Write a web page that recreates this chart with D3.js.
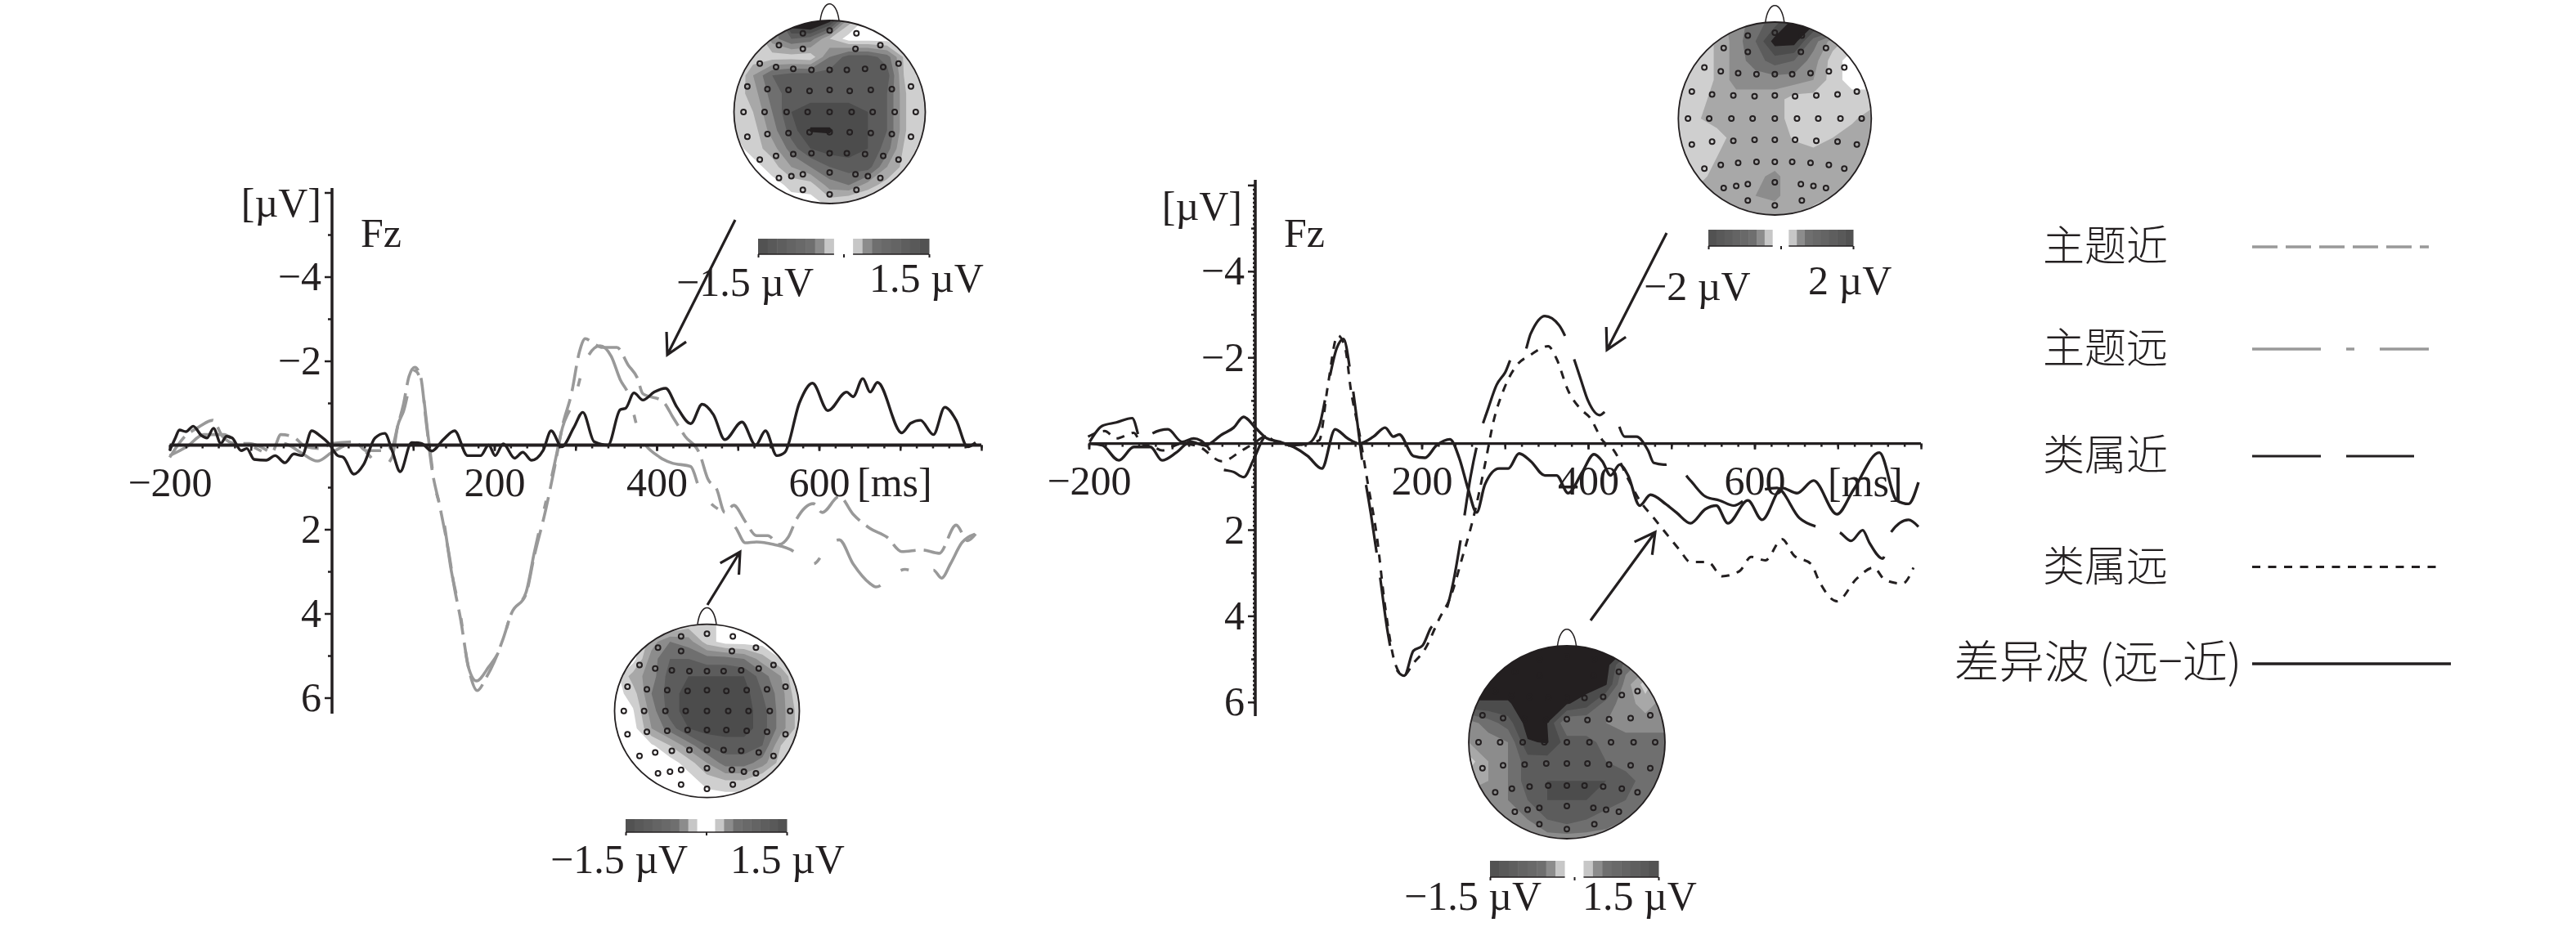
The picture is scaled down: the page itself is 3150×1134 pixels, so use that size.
<!DOCTYPE html>
<html lang="zh">
<head>
<meta charset="UTF-8">
<title>Fz</title>
<script src="https://d3js.org/d3.v7.min.js"></script>
<style>
  html, body { margin: 0; background: #fff; }
  text { font-family: "Liberation Serif", serif; font-size: 50px; fill: #231f20; }
  .cjk { font-family: "Noto Sans CJK SC", sans-serif; font-size: 51px; font-weight: 300; }
</style>
</head>
<body>
<div id="container"></div>
<script>
// [ms, uV]
var leftNear = [[-200,.29],[-183,-.17],[-165,-.42],[-147,-.59],[-135,-.21],[-119,-.04],[-102,-.04],[-88,.04],[-74,.17],[-63,-.25],[-49,-.21],[-32,.04],[-14,.08],[0,-.04],[28,-.08],[42,.13],[60,.13],[74,.04],[81,-.46],[88,-.97],[95,-1.64],[102,-1.85],[109,-1.64],[116,-.55],[123,.55],[133,1.47],[144,2.57],[151,3.41],[158,4.09],[168,5.27],[179,5.83],[190,5.52],[200,5.14],[211,4.59],[221,4],[239,3.54],[249,2.65],[263,1.56],[274,.55],[284,-.46],[295,-1.22],[305,-2.23],[312,-2.53],[323,-2.4],[333,-2.32],[351,-2.32],[365,-1.9],[376,-1.6],[383,-1.22],[407,-1.05],[421,-.63],[435,-.21],[453,.21],[463,.8],[474,1.05],[484,1.6],[495,1.43],[509,1.81],[523,2.15],[537,2.15],[551,2.36],[562,2.19],[572,1.77],[593,1.39],[604,1.6],[625,1.22],[642,1.64],[663,1.98],[684,2.19],[702,2.53],[727,2.49],[748,2.57],[769,1.9],[783,2.27],[793,2.11]];
var leftFar = [[-200,.25],[-179,.04],[-158,-.25],[-133,-.25],[-119,-.08],[-98,.04],[-81,.17],[-60,-.04],[-39,.17],[-18,.38],[0,.17],[28,-.04],[46,.25],[60,.55],[74,.29],[81,-.46],[88,-.8],[102,-1.77],[110,-1.47],[119,-.13],[126,.88],[137,1.73],[147,2.99],[158,4],[168,5.27],[178,5.6],[193,5.27],[207,4.84],[221,4],[239,3.5],[249,2.57],[263,1.39],[274,.46],[284,-.42],[298,-1.05],[312,-1.98],[330,-2.36],[344,-2.11],[355,-1.56],[365,-1.22],[379,-.25],[404,.29],[418,.42],[442,.51],[453,1.05],[467,1.39],[481,1.6],[498,1.98],[509,2.32],[523,2.3],[544,2.36],[569,2.53],[579,2.74],[593,2.82],[614,2.32],[625,2.25],[642,2.82],[663,3.29],[670,3.37],[695,3.03],[706,2.95],[723,3.03],[741,2.97],[751,3.16],[762,2.82],[776,2.32],[793,2.11]];
var leftDiff = [[-200,.13],[-193,-.17],[-188,-.36],[-180,-.32],[-171,-.45],[-161,-.23],[-154,-.17],[-146,-.4],[-137,-.04],[-130,-.21],[-123,-.17],[-112,.13],[-105,.08],[-96,.34],[-81,.36],[-70,.25],[-58,.42],[-47,.21],[-37,.25],[-25,-.34],[-14,-.21],[-4,-.04],[7,.25],[14,.29],[27,.69],[39,.46],[53,-.17],[65,-.28],[74,.13],[84,.63],[98,-.06],[110,-.04],[123,.14],[137,-.13],[151,-.34],[167,.25],[183,.25],[193,0],[201,.25],[211,-.03],[225,.31],[235,.17],[246,.36],[260,.13],[270,-.34],[283,.04],[298,-.42],[309,-.78],[323,-.08],[340,0],[355,-.84],[362,-.88],[372,-1.24],[383,-1.07],[397,-1.26],[411,-1.35],[425,-.9],[442,-.51],[456,-.97],[470,-.72],[484,-.13],[505,-.55],[522,0],[534,-.34],[548,.25],[558,.17],[576,-1.01],[592,-1.47],[611,-.82],[634,-1.26],[642,-1.15],[654,-1.58],[663,-1.26],[672,-1.49],[702,-.29],[713,-.52],[725,-.59],[741,-.25],[755,-.9],[769,-.59],[783,.04],[793,-.06]];
var rightNear = [[-199,-.04],[-184,-.41],[-167,-.49],[-148,-.59],[-136,0],[-126,-.21],[-105,-.33],[-88,-.04],[-74,-.12],[-57,.08],[-43,.58],[-26,.66],[-14,.78],[-2,.37],[12,-.16],[25,-.21],[43,.04],[63,0],[77,-.41],[87,-1.32],[98,-2.22],[106,-2.43],[115,-1.56],[122,-.58],[128,.33],[139,1.64],[149,2.96],[159,4.36],[168,5.18],[179,5.39],[190,4.81],[201,4.69],[211,4.28],[225,4.07],[238,3.21],[249,1.97],[259,.74],[269,-.16],[280,-.82],[290,-1.36],[300,-1.64],[311,-2.06],[321,-2.01],[331,-2.55],[348,-2.96],[365,-2.75],[379,-2.18],[390,-1.56],[400,-.99],[414,-.66],[424,-.78],[431,-.7],[444,-.16],[458,-.16],[472,.16],[479,.45],[493,.49],[502,.45],[523,.86],[541,1.23],[558,1.32],[575,1.44],[599,1.15],[627,1.03],[654,1.73],[682,1.97],[702,2.06],[716,2.26],[730,2.01],[738,2.3],[754,2.67],[764,2.06],[785,1.77],[797,1.93]];
var rightFar = [[-201,-.16],[-181,-.29],[-167,-.12],[-146,-.25],[-137,0],[-122,.08],[-112,.16],[-88,0],[-67,.08],[-40,.41],[-16,.16],[-2,0],[12,-.16],[29,0],[46,.04],[63,0],[77,-.08],[87,-1.32],[99,-2.51],[108,-2.22],[115,-1.23],[125,-.25],[135,.9],[146,2.14],[156,3.78],[168,5.1],[178,5.39],[190,5.1],[204,4.77],[221,4.07],[235,3.54],[249,2.63],[262,1.73],[276,.49],[286,-.49],[300,-1.32],[314,-1.81],[331,-2.06],[352,-2.26],[362,-1.97],[376,-1.23],[390,-.82],[403,-.58],[417,-.08],[431,.16],[448,.82],[462,1.32],[479,1.73],[496,2.14],[510,2.47],[523,2.75],[544,2.75],[561,3.08],[582,2.96],[596,2.63],[613,2.71],[633,2.22],[647,2.59],[668,2.8],[678,3.21],[699,3.66],[723,3.13],[743,2.88],[757,3.17],[778,3.25],[791,2.88]];
var rightDiff = [[-199,0],[-184,.04],[-164,.39],[-146,.08],[-126,.08],[-112,.39],[-95,.21],[-78,-.04],[-60,.04],[-40,-.21],[-26,-.37],[-14,-.62],[0,-.37],[14,-.12],[29,-.04],[46,.08],[63,.29],[80,.58],[96,-.33],[111,-.12],[125,0],[142,-.16],[156,-.37],[166,-.16],[173,-.21],[190,.29],[204,.33],[218,.04],[234,-.1],[245,.33],[256,1.07],[266,1.6],[276,.95],[293,.58],[304,.58],[317,.23],[331,.41],[348,.74],[362,.74],[376,1.15],[393,.66],[407,.25],[417,.41],[427,.74],[438,.49],[448,.74],[462,1.44],[475,1.19],[493,1.4],[506,1.6],[523,1.85],[541,1.52],[554,1.44],[568,1.85],[592,1.32],[609,1.77],[633,1.03],[651,1.15],[671,.86],[699,1.64],[719,1.07],[750,.21],[771,1.32],[785,1.4],[797,.9]];

var xLabelTicks = [-200, 200, 400, 600];
var xMajorTicks = [-200,-100,100,200,300,400,500,600,700,800];
var xMinorTicks = d3.range(-200, 801, 20);
var yLabelTicks = [-4, -2, 2, 4, 6];
var yMajorTicks = [-6];
var yMinorTicks = [-5,-3,-1,1,3,5];
var yDenseTicks = d3.range(-6, 6.01, .1);

var legendLabels = ["主题近", "主题远", "类属近", "类属远", "差异波 (远−近)"];

// scalp maps: contour level per grid node, rows front to back, left to right
var map1Levels = [
  [0,0,2,8,9,7,2,0,0,0,0],
  [0,0,3,4.5,4,1.5,0,0,0,0,0],
  [0,.8,1,1,.8,3.5,5,5,4,1,0],
  [0,2.5,4.5,5,5,5,5,5,5,1,0],
  [.8,2,4,5,5,5,5,5,4.5,1.5,.8],
  [1,1.5,3.5,5.5,6,6,6,5.5,4.5,1.5,.8],
  [.5,1,3,5,6.6,6.6,6,5.5,4.5,1.5,.8],
  [0,1,2,4,5.5,6,6,5.5,4,1,0],
  [0,0,1,2.5,3.5,4.5,5,5,2.5,1,0],
  [0,0,0,.8,1,3,3.5,2,1,0,0],
  [0,0,0,0,0,.8,0,0,0,0,0]
];
var map2Levels = [
  [1,1,2,3,4,5,7,7,7,5,4],
  [1,1,1.6,3,4.5,7,7,4,2,1,1],
  [1,1,1.6,3,4,5,4.5,3,1,0,0],
  [1,1,1.6,3,3,3,3,2.5,1,0,0],
  [1,1,2,2,2,2,1,1,1,1,1],
  [1,1.4,2,2,2,2,1,1,1,1.3,2],
  [1,1,1,2,2,2,1.4,1,1.5,2,2],
  [1,1,1.5,2,2,2,2,2,2,2,2],
  [1,1,2,2,2.3,2.7,2,2,2,2,2],
  [2,2,2,2,2.5,2.7,2,2,1.5,2,2],
  [2,2,2,2,2,2,2,1,1,1,1]
];
var map3Levels = [
  [0,0,0,0,1,1,0,0,0,0,0],
  [0,0,2,3.5,3,1,0,0,0,0,0],
  [0,0,3,4.5,4.5,4,4,3.5,2,.5,0],
  [0,2,3,5,5.5,5.5,5.5,5.5,4,2.5,0],
  [0,1,3.5,5,6,5.5,5.5,6,4.5,3,.5],
  [0,.4,3,5,6,6,6,6,5,3,1],
  [0,0,2.5,4,5.5,6,6,6,5,3,1],
  [0,0,.3,1.5,3,4.5,5,5,4.5,1.5,0],
  [0,0,0,0,1,2.5,4,4,3,1,0],
  [0,0,0,0,0,1,1.5,1.5,.5,0,0],
  [0,0,0,0,0,0,0,0,0,0,0]
];
var map4Levels = [
  [7,7,7,7,7,7,7,7,7,7,7],
  [7,7,7,7,7,7,7,7,4,3,3],
  [7,7,7,7,7,7,7,6.6,3,1,3],
  [6.4,6.4,6.4,7,7,6.6,6,4,3,2,3],
  [3,4,5,7,6.5,3.5,3.5,3.5,3,3,3],
  [2.5,3,3.5,6.4,6.6,5,5,4,4,4,4],
  [1,2.5,3.5,5,5,5,5,4.5,4,4,4],
  [2,2.5,3.5,5,5.5,5.5,5.5,5.5,5,4,4],
  [3,3,3.5,4.5,5.5,5.5,5.5,5,4.5,4,4],
  [3,3,3,3.5,4.5,5,4.5,4,3.5,3,3],
  [3,3,3,3,3,3,3,3,3,3,3]
];
var levelThresholds = [.5, 1.5, 2.5, 3.5, 4.5, 5.5, 6.5];
var levelGrays = ["#ffffff", "#cfcfcf", "#a8a8a8", "#8c8c8c", "#6f6f6f", "#5c5c5c", "#4c4c4c", "#231f20"];
var barLevels = [5.6,5.2,4.9,4.6,4.3,4,3,1.2,0,0,1.2,3,4,4.3,4.6,4.9,5.2,5.6];

// electrode layout, fraction of head radius
var electrodeX = [0,-.28,.28,-.53,-.28,.27,.53,-.73,-.56,-.38,-.19,0,.18,.37,.56,.72,-.86,-.65,-.43,-.21,0,.21,.43,.65,.85,-.9,-.68,-.45,-.23,0,.23,.45,.68,.9,-.86,-.65,-.43,-.21,0,.21,.43,.65,.85,-.73,-.56,-.38,-.19,0,.18,.37,.56,.72,-.53,-.4,-.28,0,.27,.4,.53,-.28,0,.28];
var electrodeY = [-.89,-.86,-.86,-.73,-.69,-.69,-.73,-.53,-.49,-.47,-.46,-.46,-.46,-.47,-.49,-.53,-.28,-.25,-.24,-.23,-.24,-.23,-.24,-.25,-.28,0,0,0,0,0,0,0,0,0,.27,.24,.23,.22,.22,.22,.23,.24,.27,.52,.48,.46,.45,.45,.45,.46,.48,.52,.72,.7,.68,.66,.68,.7,.72,.85,.9,.85];

var WIDTH = 3150, HEIGHT = 1134;
var svg = d3.select("#container").append("svg")
  .attr("width", WIDTH).attr("height", HEIGHT).style("display", "block");

var INK = "#231f20", GRAY = "#999999";
var styles = {
  themeNear: { color: GRAY, dash: "31 10", width: 3.6 },
  themeFar: { color: GRAY, dash: "84 31 10 31", width: 3.6 },
  genusNear: { color: INK, dash: "84 31", width: 3.2 },
  genusFar: { color: INK, dash: "10 9.5", width: 3 },
  diff: { color: INK, dash: null, width: 3.4 }
};

function drawPanel(p) {
  var x = d3.scaleLinear().domain([0, 800]).range([p.x0, p.x800]);
  var y = d3.scaleLinear().domain([-4, 4]).range([p.y0 - 4 * p.perUv, p.y0 + 4 * p.perUv]);
  var zero = y(0), g = svg.append("g");

  var line = d3.line().x(function (d) { return x(d[0]); }).y(function (d) { return y(d[1]); })
    .curve(d3.curveMonotoneX);
  p.series.forEach(function (s) {
    g.append("path").datum(s.data).attr("d", line).attr("fill", "none")
      .attr("stroke", s.style.color).attr("stroke-width", s.style.width)
      .attr("stroke-dasharray", s.style.dash);
  });

  // small ticks first, then the labelled ones
  var fmt = function (v) { return String(v).replace("-", "\u2212"); };
  var yat = "translate(" + x(0) + ",0)", xat = "translate(0," + zero + ")";
  var axes = [
    g.append("g").attr("transform", yat).call(d3.axisLeft(y).tickValues(yMinorTicks).tickSize(5).tickFormat("")),
    g.append("g").attr("transform", yat).call(d3.axisLeft(y).tickValues(yMajorTicks).tickSize(9).tickFormat("")),
    g.append("g").attr("transform", yat).call(d3.axisLeft(y).tickValues(yLabelTicks).tickSize(9).tickPadding(4).tickFormat(fmt)),
    g.append("g").attr("transform", xat).call(d3.axisBottom(x).tickValues(xMinorTicks).tickSize(4).tickFormat("")),
    g.append("g").attr("transform", xat).call(d3.axisBottom(x).tickValues(xMajorTicks).tickSize(7).tickFormat("")),
    g.append("g").attr("transform", xat).call(d3.axisBottom(x).tickValues(xLabelTicks).tickSize(7).tickPadding(20).tickFormat(fmt))
  ];
  if (p.dense) {
    axes.push(g.append("g").attr("transform", yat).call(d3.axisLeft(y).tickValues(yDenseTicks).tickSize(3).tickFormat("")));
  }
  axes.forEach(function (a) {
    a.attr("font-family", null).attr("font-size", null);
    a.select(".domain").remove();
    a.selectAll("line").attr("stroke", INK).attr("stroke-width", 2.5);
    a.selectAll("text").attr("fill", null);
  });

  g.append("line").attr("x1", x(0)).attr("x2", x(0)).attr("y1", p.axisTop).attr("y2", p.axisBottom)
    .attr("stroke", INK).attr("stroke-width", 3.5);
  g.append("line").attr("x1", x(-200)).attr("x2", x(800)).attr("y1", zero).attr("y2", zero)
    .attr("stroke", INK).attr("stroke-width", p.zeroWidth);

  g.append("text").attr("x", p.uvX).attr("y", p.uvY).attr("text-anchor", "end").text("[\u00b5V]");
  g.append("text").attr("x", p.fzX).attr("y", 302).text("Fz");
  g.append("text").attr("x", p.msX).attr("y", 607).text("[ms]");
}

drawPanel({
  x0: 406, x800: 1200, y0: 544.5, perUv: 51.5, axisTop: 230, axisBottom: 873, zeroWidth: 4,
  uvX: 393, uvY: 265, fzX: 441, msX: 1048, dense: false,
  series: [
    { data: leftNear, style: styles.themeNear },
    { data: leftFar, style: styles.themeFar },
    { data: leftDiff, style: styles.diff }
  ]
});
drawPanel({
  x0: 1535, x800: 2349, y0: 542.6, perUv: 52.7, axisTop: 220, axisBottom: 876, zeroWidth: 3.2,
  uvX: 1519, uvY: 269, fzX: 1570, msX: 2235, dense: true,
  series: [
    { data: rightNear, style: styles.genusNear },
    { data: rightFar, style: styles.genusFar },
    { data: rightDiff, style: styles.diff }
  ]
});

function drawScalp(m, i) {
  var g = svg.append("g");
  var id = "head" + i;
  var rx = m.rx, ry = m.ry, n = m.levels.length;
  g.append("clipPath").attr("id", id).append("ellipse")
    .attr("cx", m.cx).attr("cy", m.cy).attr("rx", rx).attr("ry", ry);

  var sx = d3.scaleLinear().domain([.5, n - .5]).range([m.cx - rx, m.cx + rx]);
  var sy = d3.scaleLinear().domain([.5, n - .5]).range([m.cy - ry, m.cy + ry]);
  var path = d3.geoPath(d3.geoTransform({
    point: function (a, b) { this.stream.point(sx(a), sy(b)); }
  }));
  var contours = d3.contours().size([n, n]).thresholds(levelThresholds)(d3.merge(m.levels));
  g.append("g").attr("clip-path", "url(#" + id + ")").selectAll("path").data(contours).enter().append("path")
    .attr("d", path)
    .attr("fill", function (d) { return levelGrays[levelThresholds.indexOf(d.value) + 1]; });

  g.append("ellipse").attr("cx", m.cx).attr("cy", m.cy).attr("rx", rx).attr("ry", ry)
    .attr("fill", "none").attr("stroke", INK).attr("stroke-width", 1.8);
  var top = m.cy - ry;
  g.append("path").attr("fill", "none").attr("stroke", INK).attr("stroke-width", 1.5)
    .attr("d", "M" + (m.cx - 11.5) + "," + top + "C" + (m.cx - 8) + "," + (top - 27) + " " + (m.cx + 8) + "," + (top - 27) + " " + (m.cx + 11.5) + "," + top);

  g.selectAll("circle").data(electrodeX).enter().append("circle")
    .attr("cx", function (d) { return m.cx + d * rx; })
    .attr("cy", function (d, j) { return m.cy + electrodeY[j] * ry; })
    .attr("r", 3).attr("fill", "none").attr("stroke", INK).attr("stroke-width", 2);

  // colour bar, one band per entry of barLevels
  var band = d3.scaleBand().domain(d3.range(barLevels.length)).range([m.barX0, m.barX1]);
  var gray = d3.scaleLinear().domain(d3.range(levelGrays.length)).range(levelGrays);
  g.selectAll("rect").data(barLevels).enter().append("rect")
    .attr("x", function (d, j) { return band(j); })
    .attr("y", m.barY).attr("width", band.bandwidth() + .5).attr("height", m.barH)
    .attr("fill", function (d) { return gray(d); });
  var tick = d3.scaleLinear().domain([-1, 1]).range([m.barX0, m.barX1]);
  var axis = g.append("g").attr("transform", "translate(0," + (m.barY + m.barH) + ")")
    .call(d3.axisBottom(tick).tickValues([-1, 0, 1]).tickSize(4).tickFormat(""));
  axis.selectAll("line").attr("stroke", INK).attr("stroke-width", 2);
  axis.select(".domain").attr("stroke", INK).attr("stroke-width", 1.5).attr("d",
    m.solidBase ? "M" + m.barX0 + ",0H" + m.barX1
      : "M" + m.barX0 + ",0H" + band(8) + "M" + band(10) + ",0H" + m.barX1);

  g.append("text").attr("x", m.lowX).attr("y", m.lowY).text(m.low);
  g.append("text").attr("x", m.highX).attr("y", m.highY).text(m.high);
}

[
  { levels: map1Levels, cx: 1014.5, cy: 137, rx: 117, ry: 112, barX0: 927, barX1: 1136, barY: 292, barH: 19,
    low: "\u22121.5 \u00b5V", lowX: 827, lowY: 362, high: "1.5 \u00b5V", highX: 1063, highY: 357 },
  { levels: map2Levels, cx: 2170.3, cy: 145, rx: 118, ry: 118, barX0: 2089, barX1: 2266, barY: 281, barH: 20,
    low: "\u22122 \u00b5V", lowX: 2010, lowY: 367, high: "2 \u00b5V", highX: 2211, highY: 360 },
  { levels: map3Levels, cx: 864.5, cy: 869.7, rx: 113, ry: 106, barX0: 765, barX1: 962, barY: 1002, barH: 16, solidBase: true,
    low: "\u22121.5 \u00b5V", lowX: 673, lowY: 1068, high: "1.5 \u00b5V", highX: 893, highY: 1068 },
  { levels: map4Levels, cx: 1916, cy: 908, rx: 120, ry: 118, barX0: 1822, barX1: 2028, barY: 1053, barH: 20,
    low: "\u22121.5 \u00b5V", lowX: 1717, lowY: 1113, high: "1.5 \u00b5V", highX: 1935, highY: 1113 }
].forEach(drawScalp);

// arrows pointing from the scalp maps to the curves
function arrow(x1, y1, x2, y2) {
  var a = Math.atan2(y1 - y2, x1 - x2), len = 28, spread = .5;
  svg.append("path").attr("fill", "none").attr("stroke", INK).attr("stroke-width", 3.2)
    .attr("d", "M" + x1 + "," + y1 + "L" + x2 + "," + y2 +
      "M" + (x2 + len * Math.cos(a - spread)) + "," + (y2 + len * Math.sin(a - spread)) +
      "L" + x2 + "," + y2 +
      "L" + (x2 + len * Math.cos(a + spread)) + "," + (y2 + len * Math.sin(a + spread)));
}
arrow(899, 269, 816, 434);
arrow(865, 740, 905, 675);
arrow(2038, 285, 1965, 428);
arrow(1945, 759, 2024, 651);

// legend
var legendStyles = [styles.themeNear, styles.themeFar, styles.genusNear, styles.genusFar, styles.diff];
var legendRows = [
  { textX: 2651, lineEnd: 2970, y: 302, size: 51 },
  { textX: 2651, lineEnd: 2970, y: 427, size: 51 },
  { textX: 2651, lineEnd: 2952, y: 558, size: 51 },
  { textX: 2651, lineEnd: 2988, y: 693.5, size: 51 },
  { textX: 2741, lineEnd: 2997, y: 812, size: 55 }
];
legendLabels.forEach(function (label, i) {
  var row = legendRows[i], s = legendStyles[i];
  svg.append("text").attr("class", "cjk").attr("x", row.textX).attr("y", row.y + 17)
    .style("font-size", row.size + "px").attr("text-anchor", "end").text(label);
  svg.append("line").attr("x1", 2754).attr("x2", row.lineEnd).attr("y1", row.y).attr("y2", row.y)
    .attr("stroke", s.color).attr("stroke-width", s.width).attr("stroke-dasharray", s.dash);
});
</script>
</body>
</html>
